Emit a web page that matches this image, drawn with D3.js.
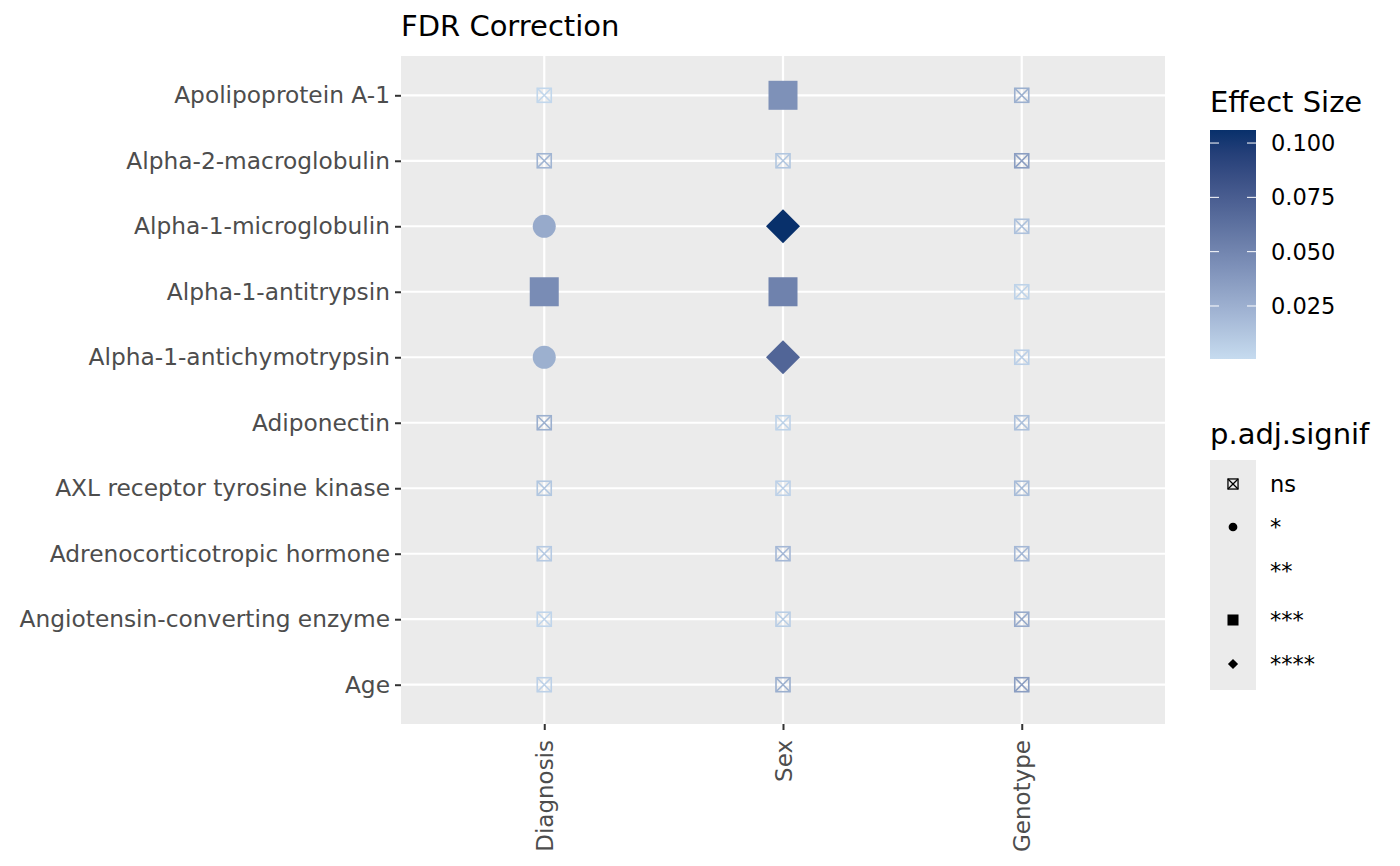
<!DOCTYPE html>
<html><head><meta charset="utf-8">
<script src="https://cdn.jsdelivr.net/npm/d3@7"></script>
<style>body{margin:0;background:#fff;font-family:"DejaVu Sans",sans-serif}</style>
</head><body><svg id="c" width="1400" height="866"></svg>
<script>
const proteins=["Age","Angiotensin-converting enzyme","Adrenocorticotropic hormone","AXL receptor tyrosine kinase","Adiponectin","Alpha-1-antichymotrypsin","Alpha-1-antitrypsin","Alpha-1-microglobulin","Alpha-2-macroglobulin","Apolipoprotein A-1"];
const groups=["Diagnosis","Sex","Genotype"];
const effDiagnosis=[0.006,0.004,0.010,0.012,0.025,0.025,0.046,0.028,0.022,0.003];
const effSex=[0.025,0.008,0.020,0.006,0.005,0.070,0.052,0.106,0.012,0.043];
const effGenotype=[0.035,0.028,0.020,0.018,0.015,0.007,0.005,0.015,0.035,0.025];
const sigDiagnosis=["ns","ns","ns","ns","ns","*","***","*","ns","ns"];
const sigSex=["ns","ns","ns","ns","ns","****","***","****","ns","***"];
const sigGenotype=["ns","ns","ns","ns","ns","ns","ns","ns","ns","ns"];
const sigLevels=["ns","*","**","***","****"];
const colorTicks=[0.025,0.05,0.075,0.1];

const eff={Diagnosis:effDiagnosis,Sex:effSex,Genotype:effGenotype};
const sig={Diagnosis:sigDiagnosis,Sex:sigSex,Genotype:sigGenotype};
const data=[];
groups.forEach(g=>proteins.forEach((p,i)=>data.push({g,p,v:eff[g][i],s:sig[g][i]})));

const svg=d3.select("#c");
const L=401,R=1165,T=56,B=724;
const x=d3.scalePoint().domain(groups).range([L,R]).padding(0.6);
const y=d3.scalePoint().domain(proteins).range([B,T]).padding(0.6);
const cmin=0.0006,cmax=0.106;
const col=d3.scaleLinear().domain([cmin,cmax]).range(["#c6dbef","#08306b"]).interpolate(d3.interpolateLab).clamp(true);

svg.append("rect").attr("x",L).attr("y",T).attr("width",R-L).attr("height",B-T).attr("fill","#ebebeb");
svg.append("g").selectAll("line").data(proteins).join("line").attr("x1",L).attr("x2",R).attr("y1",d=>y(d)).attr("y2",d=>y(d)).attr("stroke","#fff").attr("stroke-width",2.2);
svg.append("g").selectAll("line").data(groups).join("line").attr("y1",T).attr("y2",B).attr("x1",d=>x(d)).attr("x2",d=>x(d)).attr("stroke","#fff").attr("stroke-width",2.2);

function drawShape(sel,s,c,k){
  k=k||1;
  if(s==="ns"){
    const h=7*k;
    sel.append("rect").attr("x",-h).attr("y",-h).attr("width",2*h).attr("height",2*h).attr("fill","none").attr("stroke",c).attr("stroke-width",1.6*Math.max(k,0.8));
    sel.append("path").attr("d",`M${-h},${-h}L${h},${h}M${h},${-h}L${-h},${h}`).attr("stroke",c).attr("stroke-width",1.6*Math.max(k,0.8));
  } else if(s==="*"){
    sel.append("circle").attr("r",11.5*k).attr("fill",c);
  } else if(s==="***"){
    const h=14.5*k;
    sel.append("rect").attr("x",-h).attr("y",-h).attr("width",2*h).attr("height",2*h).attr("fill",c);
  } else if(s==="****"){
    const h=17*k;
    sel.append("path").attr("d",`M0,${-h}L${h},0L0,${h}L${-h},0Z`).attr("fill",c);
  }
}
data.forEach(d=>{
  const g=svg.append("g").attr("transform",`translate(${x(d.g)},${y(d.p)})`);
  drawShape(g,d.s,col(d.v));
});

const ya=svg.append("g").attr("transform",`translate(${L},0)`).call(d3.axisLeft(y).tickSize(6).tickPadding(5));
ya.select(".domain").remove();
ya.selectAll("line").attr("stroke","#333").attr("stroke-width",2);
ya.selectAll("text").attr("fill","#4d4d4d").style("font-size","23.3px").style("font-family","DejaVu Sans");
const xa=svg.append("g").attr("transform",`translate(0,${B})`).call(d3.axisBottom(x).tickSize(6).tickPadding(5));
xa.select(".domain").remove();
xa.selectAll("line").attr("stroke","#333").attr("stroke-width",2);
xa.selectAll("text").attr("fill","#4d4d4d").style("font-size","23px").style("font-family","DejaVu Sans")
  .attr("transform","rotate(-90)").attr("text-anchor","end").attr("x",-16).attr("y",0).attr("dy","0.35em");

svg.append("text").attr("x",L).attr("y",36).text("FDR Correction").style("font-size","29px").attr("fill","#000");

const cb={x:1210,w:46,top:130,bot:359};
const cy=d3.scaleLinear().domain([cmin,cmax]).range([cb.bot,cb.top]);
const defs=svg.append("defs");
const lg=defs.append("linearGradient").attr("id","gr").attr("x1",0).attr("x2",0).attr("y1",1).attr("y2",0);
d3.range(0,1.0001,0.1).forEach(t=>lg.append("stop").attr("offset",t).attr("stop-color",col(cmin+t*(cmax-cmin))));
svg.append("rect").attr("x",cb.x).attr("y",cb.top).attr("width",cb.w).attr("height",cb.bot-cb.top).attr("fill","url(#gr)");
colorTicks.forEach(t=>{
  svg.append("line").attr("x1",cb.x).attr("x2",cb.x+9).attr("y1",cy(t)).attr("y2",cy(t)).attr("stroke","#fff").attr("stroke-width",1);
  svg.append("line").attr("x1",cb.x+cb.w-9).attr("x2",cb.x+cb.w).attr("y1",cy(t)).attr("y2",cy(t)).attr("stroke","#fff").attr("stroke-width",1);
  svg.append("text").attr("x",1271).attr("y",cy(t)).attr("dy","0.35em").text(d3.format(".3f")(t)).style("font-size","22.5px");
});
svg.append("text").attr("x",1210).attr("y",112).text("Effect Size").style("font-size","29px");

svg.append("text").attr("x",1210).attr("y",444).text("p.adj.signif").style("font-size","29px");
svg.append("rect").attr("x",1210).attr("y",460).attr("width",46).attr("height",230).attr("fill","#ebebeb");
const ly=[484,527,571,620,664];
sigLevels.forEach((s,i)=>{
  const g=svg.append("g").attr("transform",`translate(1233,${ly[i]})`);
  drawShape(g,s,"#000",s==="ns"?0.72:(s==="****"?0.3:0.38));
  svg.append("text").attr("x",1270).attr("y",ly[i]).attr("dy","0.35em").text(s).style("font-size","22.5px");
});
</script></body></html>
